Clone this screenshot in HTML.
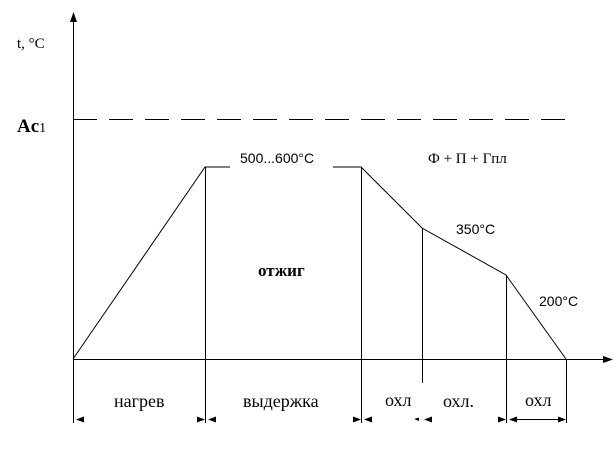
<!DOCTYPE html>
<html><head><meta charset="utf-8"><style>
html,body{margin:0;padding:0;background:#fff;}
svg{display:block;}
text{font-family:"Liberation Serif",serif;fill:#000;}
.s{font-family:"Liberation Sans",sans-serif;}
</style></head><body>
<svg width="616" height="456" viewBox="0 0 616 456">
<g stroke="#000" stroke-width="1" fill="none">
<line x1="73.5" y1="20" x2="73.5" y2="423"/>
<line x1="73" y1="359.5" x2="604" y2="359.5"/>
<line x1="73" y1="119.5" x2="568" y2="119.5" stroke-dasharray="24,12"/>
<polyline points="73,359 205,167 230,167"/>
<polyline points="333,167 361,167 422,228 506,275 566,359"/>
<line x1="205.5" y1="167" x2="205.5" y2="423"/>
<line x1="361.5" y1="167" x2="361.5" y2="423"/>
<line x1="422.5" y1="228" x2="422.5" y2="383"/>
<line x1="506.5" y1="275" x2="506.5" y2="423"/>
<line x1="566.5" y1="359" x2="566.5" y2="423"/>
<line x1="510" y1="419.5" x2="563" y2="419.5"/>
</g>
<g fill="#000">
<polygon points="73.5,12 70,22 77,22"/>
<polygon points="613,359.5 603,356 603,363"/>
<polygon points="76,419.5 84,416.5 84,422.5"/>
<polygon points="205,419.5 197,416.5 197,422.5"/>
<polygon points="208,419.5 216,416.5 216,422.5"/>
<polygon points="361,419.5 353,416.5 353,422.5"/>
<polygon points="364,419.5 372,416.5 372,422.5"/>
<polygon points="414,419 419,417.5 419,421"/>
<polygon points="424,419.5 432,416.5 432,422.5"/>
<polygon points="506,419.5 498,416.5 498,422.5"/>
<polygon points="509,419.5 517,416.5 517,422.5"/>
<polygon points="566,419.5 558,416.5 558,422.5"/>
</g>
<text x="17" y="48" font-size="15">t, °C</text>
<text x="17" y="132" font-size="19" font-weight="bold">Ac<tspan font-size="14" font-weight="normal">1</tspan></text>
<text class="s" x="240" y="163" font-size="14">500...600°C</text>
<text x="428" y="163" font-size="15">Ф + П + Гпл</text>
<text class="s" x="456" y="234" font-size="14">350°C</text>
<text class="s" x="539" y="306" font-size="14">200°C</text>
<text x="258" y="276" font-size="17" font-weight="bold">отжиг</text>
<text x="114" y="407" font-size="18">нагрев</text>
<text x="243" y="407" font-size="18">выдержка</text>
<text x="385" y="406" font-size="18">охл</text>
<text x="443" y="407" font-size="18">охл.</text>
<text x="525" y="406" font-size="18">охл</text>
</svg>
</body></html>
